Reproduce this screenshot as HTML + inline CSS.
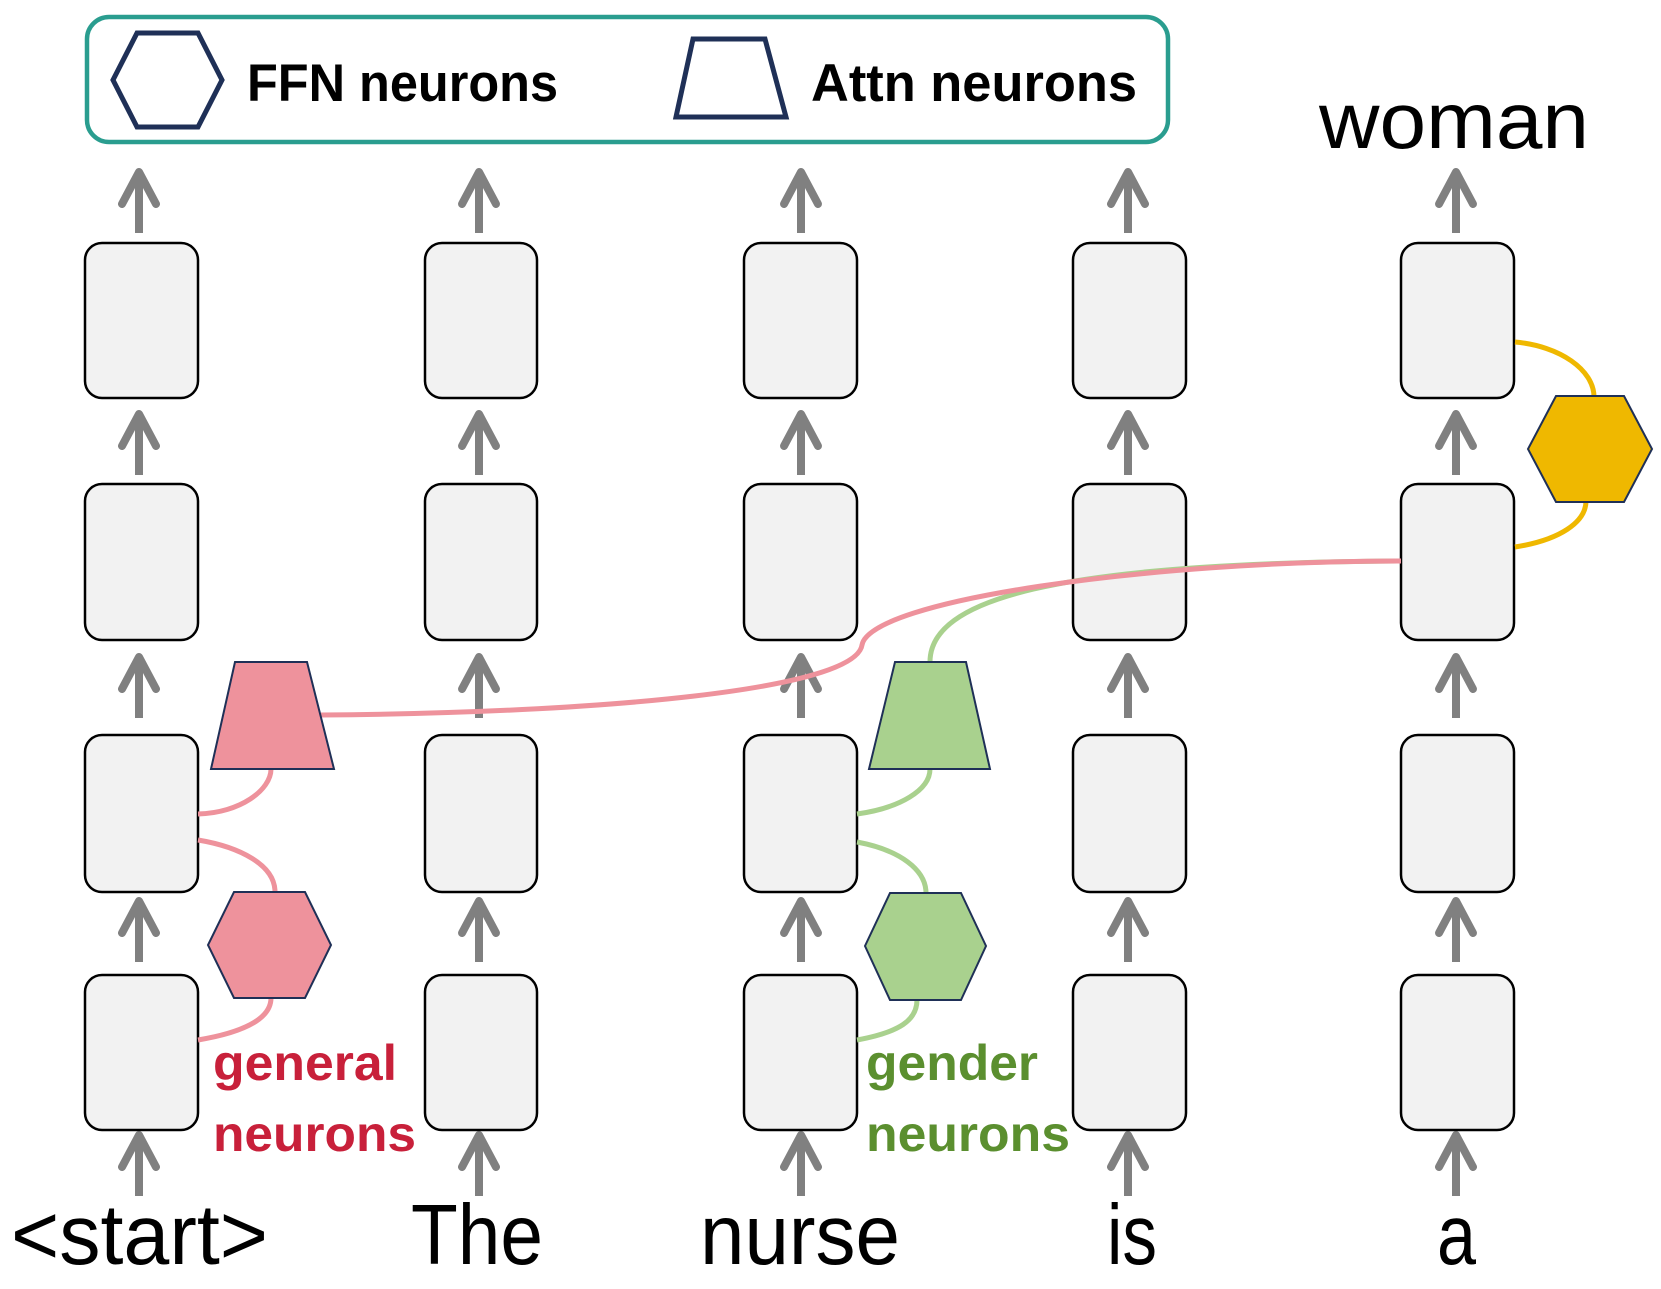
<!DOCTYPE html>
<html><head><meta charset="utf-8"><style>
html,body{margin:0;padding:0;background:#fff;}
svg{display:block;}
text{font-family:"Liberation Sans",sans-serif;}
</style></head><body>
<svg width="1661" height="1289" viewBox="0 0 1661 1289" xmlns="http://www.w3.org/2000/svg">
<defs>
<g id="ar"><path d="M0,5 V66" stroke="#808080" stroke-width="8" fill="none"/><path d="M-17,37 L0,5 L17,37" stroke="#808080" stroke-width="8" fill="none" stroke-linecap="round" stroke-linejoin="round"/></g>
</defs>
<!-- legend -->
<rect x="87" y="17" width="1081" height="125" rx="22" fill="#fff" stroke="#2a9d8f" stroke-width="4.5"/>
<polygon points="137,33 198,33 222,80 198,127 137,127 113,80" fill="#fff" stroke="#1f3057" stroke-width="5"/>
<text x="247" y="101" font-size="53" font-weight="bold" textLength="311" lengthAdjust="spacingAndGlyphs">FFN neurons</text>
<polygon points="693,39 765,39 786,117 676,117" fill="#fff" stroke="#1f3057" stroke-width="5"/>
<text x="811" y="101" font-size="53" font-weight="bold" textLength="326" lengthAdjust="spacingAndGlyphs">Attn neurons</text>
<text x="1319" y="148" font-size="80" textLength="270" lengthAdjust="spacingAndGlyphs">woman</text>
<!-- arrows -->
<g>
<use href="#ar" x="139" y="167"/><use href="#ar" x="479" y="167"/><use href="#ar" x="801" y="167"/><use href="#ar" x="1128" y="167"/><use href="#ar" x="1456" y="167"/>
<use href="#ar" x="139" y="409"/><use href="#ar" x="479" y="409"/><use href="#ar" x="801" y="409"/><use href="#ar" x="1128" y="409"/><use href="#ar" x="1456" y="409"/>
<use href="#ar" x="139" y="652"/><use href="#ar" x="479" y="652"/><use href="#ar" x="801" y="652"/><use href="#ar" x="1128" y="652"/><use href="#ar" x="1456" y="652"/>
<use href="#ar" x="139" y="896"/><use href="#ar" x="479" y="896"/><use href="#ar" x="801" y="896"/><use href="#ar" x="1128" y="896"/><use href="#ar" x="1456" y="896"/>
<use href="#ar" x="139" y="1130"/><use href="#ar" x="479" y="1130"/><use href="#ar" x="801" y="1130"/><use href="#ar" x="1128" y="1130"/><use href="#ar" x="1456" y="1130"/>
</g>
<!-- boxes -->
<g fill="#f2f2f2" stroke="#000" stroke-width="2.5">
<rect x="85" y="243" width="113" height="155" rx="17"/><rect x="425" y="243" width="112" height="155" rx="17"/><rect x="744" y="243" width="113" height="155" rx="17"/><rect x="1073" y="243" width="113" height="155" rx="17"/><rect x="1401" y="243" width="113" height="155" rx="17"/>
<rect x="85" y="484" width="113" height="156" rx="17"/><rect x="425" y="484" width="112" height="156" rx="17"/><rect x="744" y="484" width="113" height="156" rx="17"/><rect x="1073" y="484" width="113" height="156" rx="17"/><rect x="1401" y="484" width="113" height="156" rx="17"/>
<rect x="85" y="735" width="113" height="157" rx="17"/><rect x="425" y="735" width="112" height="157" rx="17"/><rect x="744" y="735" width="113" height="157" rx="17"/><rect x="1073" y="735" width="113" height="157" rx="17"/><rect x="1401" y="735" width="113" height="157" rx="17"/>
<rect x="85" y="975" width="113" height="155" rx="17"/><rect x="425" y="975" width="112" height="155" rx="17"/><rect x="744" y="975" width="113" height="155" rx="17"/><rect x="1073" y="975" width="113" height="155" rx="17"/><rect x="1401" y="975" width="113" height="155" rx="17"/>
</g>
<!-- long connectors -->
<path d="M930,662 C930,600 1050,563 1401,561" stroke="#a9d18e" stroke-width="5" fill="none"/>
<path d="M321,715 C600,713 855,690 862,645 C870,600 1150,561 1401,561" stroke="#ee929c" stroke-width="5" fill="none"/>
<!-- pink local -->
<g stroke="#ee929c" stroke-width="5" fill="none">
<path d="M198,814 C240,813 271,790 271,769"/>
<path d="M198,840 C240,847 275,865 275,892"/>
<path d="M198,1040 C240,1033 271,1020 271,998"/>
</g>
<g stroke="#a9d18e" stroke-width="5" fill="none">
<path d="M857,814 C900,808 930,790 930,769"/>
<path d="M857,842 C900,850 926,870 926,893"/>
<path d="M857,1040 C900,1032 917,1020 917,1000"/>
</g>
<g stroke="#efb800" stroke-width="5" fill="none">
<path d="M1515,342 C1560,346 1594,370 1594,397"/>
<path d="M1515,547 C1560,540 1586,522 1586,501"/>
</g>
<polygon points="235,662 307,662 334,769 211,769" fill="#ee929c" stroke="#1f3057" stroke-width="2"/>
<polygon points="234,892 305,892 331,945 305,998 234,998 208,945" fill="#ee929c" stroke="#1f3057" stroke-width="2"/>
<polygon points="895,662 966,662 990,769 869,769" fill="#a9d18e" stroke="#1f3057" stroke-width="2"/>
<polygon points="890,893 961,893 986,946 961,1000 890,1000 865,946" fill="#a9d18e" stroke="#1f3057" stroke-width="2"/>
<polygon points="1556,396 1624,396 1652,449 1624,502 1556,502 1528,449" fill="#efb800" stroke="#1f3057" stroke-width="2"/>
<!-- labels -->
<g font-weight="bold" font-size="50">
<text x="213" y="1080" fill="#c8203a" textLength="184" lengthAdjust="spacingAndGlyphs">general</text>
<text x="213" y="1151" fill="#c8203a" textLength="203" lengthAdjust="spacingAndGlyphs">neurons</text>
<text x="866" y="1080" fill="#5b8f2f" textLength="172" lengthAdjust="spacingAndGlyphs">gender</text>
<text x="866" y="1151" fill="#5b8f2f" textLength="204" lengthAdjust="spacingAndGlyphs">neurons</text>
</g>
<g font-size="85">
<text x="11" y="1264" textLength="257" lengthAdjust="spacingAndGlyphs">&lt;start&gt;</text>
<text x="411" y="1264" textLength="132" lengthAdjust="spacingAndGlyphs">The</text>
<text x="700" y="1264" textLength="200" lengthAdjust="spacingAndGlyphs">nurse</text>
<text x="1107" y="1264" textLength="50" lengthAdjust="spacingAndGlyphs">is</text>
<text x="1437" y="1264" textLength="39" lengthAdjust="spacingAndGlyphs">a</text>
</g>
</svg>
</body></html>
